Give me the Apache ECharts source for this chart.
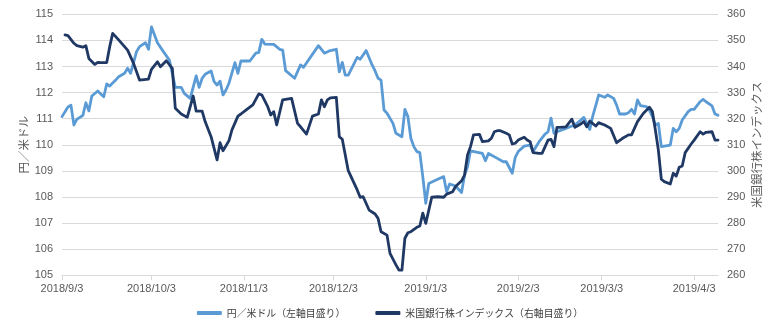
<!DOCTYPE html>
<html>
<head>
<meta charset="utf-8">
<script src="https://cdn.jsdelivr.net/npm/echarts@6/dist/echarts.min.js"></script>
<style>
  html, body { margin: 0; padding: 0; background: #fff; }
  #chart { width: 780px; height: 323px; }
</style>
</head>
<body>
<div id="chart"></div>
<script>
// USD/JPY rate (left axis)
const yenDates = [
  '2018-09-03','2018-09-05','2018-09-06','2018-09-07','2018-09-08','2018-09-09','2018-09-10','2018-09-11','2018-09-12','2018-09-13',
  '2018-09-15','2018-09-16','2018-09-17','2018-09-18','2018-09-19','2018-09-21','2018-09-22','2018-09-24','2018-09-25','2018-09-26',
  '2018-09-28','2018-09-29','2018-10-01','2018-10-02','2018-10-03','2018-10-05','2018-10-07','2018-10-09','2018-10-11','2018-10-13',
  '2018-10-14','2018-10-16','2018-10-18','2018-10-19','2018-10-20','2018-10-21','2018-10-23','2018-10-24','2018-10-25','2018-10-26',
  '2018-10-27','2018-10-28','2018-10-29','2018-10-31','2018-11-01','2018-11-02','2018-11-05','2018-11-07','2018-11-08','2018-11-09',
  '2018-11-10','2018-11-13','2018-11-15','2018-11-16','2018-11-17','2018-11-20','2018-11-22','2018-11-23','2018-11-28','2018-11-30',
  '2018-12-02','2018-12-04','2018-12-05','2018-12-06','2018-12-07','2018-12-08','2018-12-11','2018-12-12','2018-12-14','2018-12-16',
  '2018-12-17','2018-12-18','2018-12-19','2018-12-20','2018-12-21','2018-12-23','2018-12-24','2018-12-26','2018-12-27','2018-12-28',
  '2018-12-29','2018-12-30','2018-12-31','2019-01-01','2019-01-02','2019-01-03','2019-01-04','2019-01-07','2019-01-09','2019-01-10',
  '2019-01-11','2019-01-13','2019-01-15','2019-01-16','2019-01-17','2019-01-18','2019-01-22','2019-01-23','2019-01-24','2019-01-27',
  '2019-01-29','2019-01-30','2019-02-01','2019-02-02','2019-02-03','2019-02-05','2019-02-07','2019-02-08','2019-02-10','2019-02-12',
  '2019-02-13','2019-02-14','2019-02-15','2019-02-16','2019-02-19','2019-02-21','2019-02-22','2019-02-24','2019-02-25','2019-02-27',
  '2019-02-28','2019-03-02','2019-03-04','2019-03-05','2019-03-07','2019-03-08','2019-03-09','2019-03-11','2019-03-12','2019-03-13',
  '2019-03-14','2019-03-15','2019-03-16','2019-03-18','2019-03-19','2019-03-20','2019-03-21','2019-03-22','2019-03-23','2019-03-24',
  '2019-03-26','2019-03-27','2019-03-28','2019-03-29','2019-03-30','2019-04-01','2019-04-02','2019-04-03','2019-04-05','2019-04-06',
  '2019-04-07','2019-04-09','2019-04-10','2019-04-11'
];
const yenValues = [
  111.08,111.45,111.52,110.76,110.98,111.05,111.13,111.61,111.30,111.87,
  112.06,111.95,111.84,112.33,112.25,112.48,112.61,112.74,112.93,112.74,
  113.57,113.76,113.91,113.66,114.52,113.91,113.57,113.25,112.20,112.20,
  111.97,111.78,112.64,112.20,112.55,112.70,112.83,112.42,112.29,112.44,
  111.91,112.10,112.36,113.15,112.74,113.21,113.21,113.51,113.54,114.04,
  113.86,113.85,113.66,113.63,112.84,112.55,113.06,112.97,113.80,113.51,
  113.61,113.66,112.80,113.16,112.67,112.67,113.35,113.28,113.61,113.06,
  112.83,112.55,112.48,111.33,111.21,110.82,110.44,110.31,111.36,111.08,
  110.25,109.93,109.74,109.70,108.78,107.76,108.52,108.68,108.78,108.20,
  108.50,108.42,108.17,108.84,109.16,109.77,109.67,109.39,109.67,109.48,
  109.35,109.35,108.91,109.52,109.74,109.95,109.99,109.74,110.12,110.41,
  110.50,111.02,110.44,110.50,110.63,110.72,110.76,110.95,111.05,110.59,
  111.10,111.91,111.82,111.91,111.78,111.52,111.18,111.18,111.23,111.36,
  111.18,111.72,111.50,111.46,111.33,111.08,110.76,110.82,109.93,109.95,
  109.99,110.63,110.50,110.63,110.95,111.27,111.36,111.36,111.65,111.74,
  111.65,111.49,111.18,111.13
];

// US bank stock index (right axis)
const bankDates = [
  '2018-09-04','2018-09-05','2018-09-07','2018-09-08','2018-09-10','2018-09-11','2018-09-12','2018-09-14','2018-09-15','2018-09-16',
  '2018-09-18','2018-09-19','2018-09-20','2018-09-22','2018-09-25','2018-09-27','2018-09-29','2018-10-02','2018-10-03','2018-10-05',
  '2018-10-06','2018-10-08','2018-10-10','2018-10-11','2018-10-13','2018-10-15','2018-10-17','2018-10-18','2018-10-20','2018-10-21',
  '2018-10-23','2018-10-25','2018-10-26','2018-10-27','2018-10-29','2018-10-30','2018-11-01','2018-11-02','2018-11-04','2018-11-06',
  '2018-11-08','2018-11-09','2018-11-11','2018-11-12','2018-11-13','2018-11-14','2018-11-16','2018-11-19','2018-11-21','2018-11-22',
  '2018-11-24','2018-11-26','2018-11-28','2018-11-29','2018-11-30','2018-12-01','2018-12-02','2018-12-04','2018-12-05','2018-12-06',
  '2018-12-08','2018-12-11','2018-12-12','2018-12-13','2018-12-15','2018-12-17','2018-12-18','2018-12-19','2018-12-21','2018-12-22',
  '2018-12-24','2018-12-25','2018-12-26','2018-12-27','2018-12-28','2018-12-29','2018-12-31','2019-01-01','2019-01-02','2019-01-03',
  '2019-01-05','2019-01-07','2019-01-09','2019-01-10','2019-01-12','2019-01-13','2019-01-15','2019-01-16','2019-01-17','2019-01-18',
  '2019-01-19','2019-01-21','2019-01-22','2019-01-24','2019-01-25','2019-01-26','2019-01-27','2019-01-28','2019-01-30','2019-01-31',
  '2019-02-01','2019-02-02','2019-02-03','2019-02-05','2019-02-06','2019-02-07','2019-02-08','2019-02-10','2019-02-11','2019-02-13',
  '2019-02-14','2019-02-15','2019-02-16','2019-02-17','2019-02-19','2019-02-21','2019-02-22','2019-02-24','2019-02-25','2019-02-26',
  '2019-02-27','2019-03-01','2019-03-02','2019-03-03','2019-03-04','2019-03-06','2019-03-08','2019-03-10','2019-03-12','2019-03-13',
  '2019-03-15','2019-03-17','2019-03-19','2019-03-20','2019-03-21','2019-03-22','2019-03-23','2019-03-24','2019-03-26','2019-03-27',
  '2019-03-28','2019-03-29','2019-03-30','2019-03-31','2019-04-02','2019-04-03','2019-04-05','2019-04-06','2019-04-07','2019-04-09',
  '2019-04-10','2019-04-11'
];
const bankValues = [
  352.1,351.8,348.9,348.0,347.4,348.0,343.1,340.8,341.6,341.5,
  341.5,347.6,352.7,350.2,346.3,341.2,334.8,335.2,338.9,341.8,
  339.9,342.2,339.3,324.0,321.8,320.5,328.7,322.9,322.9,318.9,
  313.1,304.2,310.8,307.7,311.6,315.7,321.0,321.8,323.6,325.3,
  329.5,329.1,324.6,321.4,322.7,317.6,327.2,327.8,318.2,316.9,
  314.1,321.0,321.8,327.2,324.6,327.2,328.0,328.2,313.1,312.1,
  300.1,292.7,289.9,290.1,285.0,283.5,281.8,276.7,275.4,268.4,
  264.0,262.0,262.0,274.2,276.3,276.7,278.4,278.9,283.8,279.9,
  289.9,290.1,289.9,291.1,292.0,294.0,296.2,298.4,306.1,309.3,
  313.8,314.0,311.2,311.5,312.5,315.0,315.4,315.4,314.4,313.8,
  310.3,310.6,311.8,312.9,311.8,311.2,307.0,306.7,306.7,311.8,
  312.1,309.3,316.7,316.7,316.9,319.8,316.7,318.0,318.9,316.9,
  319.1,317.2,318.5,318.0,317.6,316.3,310.8,312.5,313.8,313.8,
  318.9,322.1,324.4,322.7,315.7,308.0,296.8,295.9,295.0,299.1,
  298.0,301.4,301.9,307.0,310.3,311.8,315.0,314.1,314.8,315.0,
  311.8,311.8
];

// Date tick labels on the horizontal axis
const tickDates = [
  '2018-09-03','2018-10-03','2018-11-03','2018-12-03',
  '2019-01-03','2019-02-03','2019-03-03','2019-04-03'
];
const xStart = '2018-09-03';
const xEnd = '2019-04-11';

const seriesNames = ['円／米ドル（左軸目盛り）', '米国銀行株インデックス（右軸目盛り）'];

function toTime(s) {
  const p = s.split('-').map(Number);
  return new Date(p[0], p[1] - 1, p[2]).getTime();
}
function fmtDate(t) {
  const d = new Date(t);
  return d.getFullYear() + '/' + (d.getMonth() + 1) + '/' + d.getDate();
}

const FONT = "'Liberation Sans', 'Noto Sans CJK JP', sans-serif";
const JP_FONT = "'Noto Sans CJK JP', 'Liberation Sans', sans-serif";
const LABEL_COLOR = '#595959';
const GRID_COLOR = '#d9d9d9';

const chart = echarts.init(document.getElementById('chart'), null, { renderer: 'canvas' });

// Horizontal axis is a plain value axis over timestamps, labelled on the 3rd of each month
const tickTimes = tickDates.map(toTime);

chart.setOption({
  animation: false,
  backgroundColor: '#ffffff',
  textStyle: { fontFamily: FONT },
  grid: { left: 62, right: 62, top: 14.3, bottom: 47.7, containLabel: false },
  legend: {
    left: 'center',
    top: 303,
    itemGap: 30,
    itemWidth: 25,
    itemHeight: 4,
    icon: 'roundRect',
    textStyle: { fontFamily: JP_FONT, fontSize: 9.9, color: '#404040' },
    data: seriesNames
  },
  xAxis: {
    type: 'value',
    min: toTime(xStart),
    max: toTime(xEnd),
    axisLine: { show: true, lineStyle: { color: GRID_COLOR, width: 1 } },
    axisTick: {
      show: true,
      length: 5,
      lineStyle: { color: GRID_COLOR },
      customValues: tickTimes
    },
    axisLabel: {
      color: LABEL_COLOR,
      fontSize: 11,
      margin: 8,
      customValues: tickTimes,
      formatter: function (v) { return fmtDate(v); }
    },
    splitLine: { show: false }
  },
  yAxis: [
    {
      type: 'value',
      min: 105,
      max: 115,
      interval: 1,
      position: 'left',
      name: '円／米ドル',
      nameLocation: 'middle',
      nameRotate: 90,
      nameGap: 33,
      nameMoveOverlap: false,
      nameTextStyle: { fontFamily: JP_FONT, fontSize: 11.5, color: LABEL_COLOR },
      axisLine: { show: false },
      axisTick: { show: false },
      axisLabel: { color: LABEL_COLOR, fontSize: 11, margin: 9 },
      splitLine: { show: true, lineStyle: { color: GRID_COLOR, width: 1 } }
    },
    {
      type: 'value',
      min: 260,
      max: 360,
      interval: 10,
      position: 'right',
      name: '米国銀行株インデックス',
      nameLocation: 'middle',
      nameRotate: 90,
      nameGap: 33,
      nameMoveOverlap: false,
      nameTextStyle: { fontFamily: JP_FONT, fontSize: 11.5, color: LABEL_COLOR },
      axisLine: { show: false },
      axisTick: { show: false },
      axisLabel: { color: LABEL_COLOR, fontSize: 11, margin: 9 },
      splitLine: { show: false }
    }
  ],
  series: [
    {
      name: seriesNames[0],
      type: 'line',
      yAxisIndex: 0,
      showSymbol: false,
      symbol: 'none',
      color: '#5B9BD5',
      lineStyle: { width: 2.8, color: '#5B9BD5', cap: 'round', join: 'round' },
      data: yenDates.map((d, i) => [toTime(d), yenValues[i]])
    },
    {
      name: seriesNames[1],
      type: 'line',
      yAxisIndex: 1,
      showSymbol: false,
      symbol: 'none',
      color: '#1F3864',
      lineStyle: { width: 2.8, color: '#1F3864', cap: 'round', join: 'round' },
      data: bankDates.map((d, i) => [toTime(d), bankValues[i]])
    }
  ]
});
</script>
</body>
</html>
